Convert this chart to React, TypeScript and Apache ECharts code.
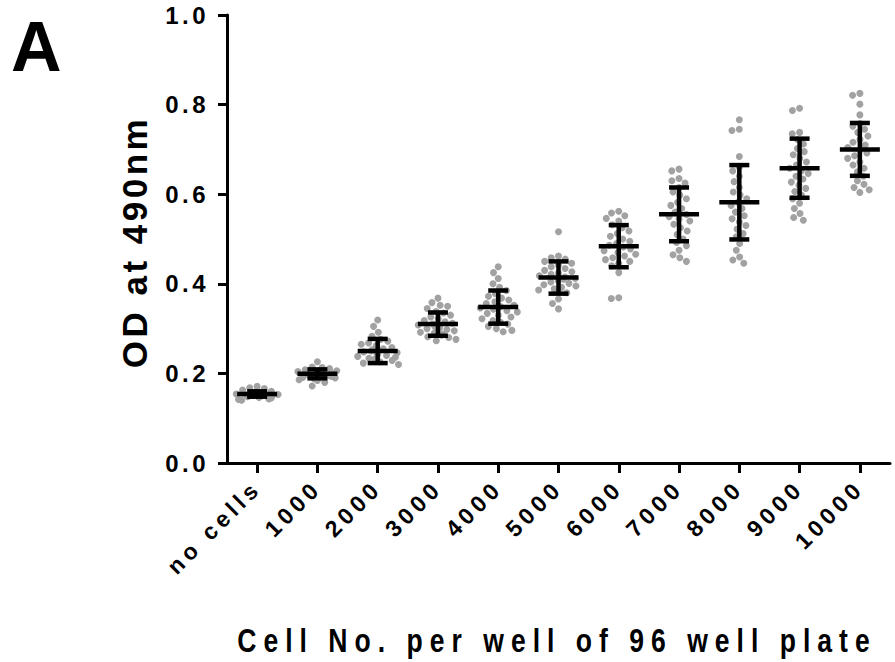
import React, { useEffect, useRef } from "react";
import * as echarts from "echarts";

// Cell titration: OD at 490 nm for each seeding density
const categories = ["no cells", "1000", "2000", "3000", "4000", "5000", "6000", "7000", "8000", "9000", "10000"];

const noCells = [0.171, 0.168, 0.166, 0.163, 0.160, 0.158, 0.157, 0.156, 0.155, 0.155, 0.154, 0.153, 0.152, 0.152, 0.151, 0.150, 0.149, 0.148, 0.147, 0.146, 0.145, 0.143, 0.142, 0.140];
const cells1000 = [0.226, 0.214, 0.213, 0.211, 0.208, 0.206, 0.204, 0.203, 0.202, 0.201, 0.200, 0.199, 0.198, 0.197, 0.196, 0.195, 0.194, 0.193, 0.191, 0.190, 0.188, 0.186, 0.184, 0.180, 0.172];
const cells2000 = [0.319, 0.305, 0.292, 0.283, 0.276, 0.272, 0.268, 0.265, 0.262, 0.258, 0.255, 0.253, 0.250, 0.248, 0.246, 0.244, 0.242, 0.240, 0.238, 0.236, 0.234, 0.232, 0.229, 0.226, 0.223, 0.220];
const cells3000 = [0.368, 0.358, 0.352, 0.350, 0.345, 0.338, 0.335, 0.330, 0.326, 0.322, 0.318, 0.315, 0.312, 0.310, 0.308, 0.306, 0.304, 0.302, 0.300, 0.298, 0.295, 0.292, 0.290, 0.288, 0.285, 0.282, 0.280, 0.276, 0.273];
const cells4000 = [0.438, 0.425, 0.412, 0.400, 0.392, 0.385, 0.378, 0.372, 0.368, 0.364, 0.360, 0.356, 0.352, 0.349, 0.346, 0.343, 0.340, 0.337, 0.334, 0.330, 0.326, 0.322, 0.318, 0.314, 0.310, 0.305, 0.300, 0.296, 0.293];
const cells5000 = [0.516, 0.462, 0.458, 0.455, 0.450, 0.446, 0.442, 0.438, 0.434, 0.430, 0.427, 0.424, 0.421, 0.418, 0.415, 0.412, 0.410, 0.407, 0.404, 0.401, 0.398, 0.395, 0.392, 0.389, 0.386, 0.380, 0.366, 0.356, 0.344];
const cells6000 = [0.562, 0.558, 0.552, 0.546, 0.540, 0.532, 0.525, 0.518, 0.512, 0.506, 0.500, 0.495, 0.490, 0.486, 0.482, 0.478, 0.474, 0.470, 0.466, 0.462, 0.458, 0.454, 0.450, 0.446, 0.440, 0.425, 0.369, 0.367];
const cells7000 = [0.656, 0.652, 0.635, 0.630, 0.625, 0.615, 0.605, 0.598, 0.590, 0.582, 0.575, 0.568, 0.560, 0.555, 0.550, 0.545, 0.540, 0.533, 0.525, 0.518, 0.510, 0.500, 0.492, 0.485, 0.475, 0.465, 0.458, 0.450];
const cells8000 = [0.766, 0.745, 0.742, 0.684, 0.660, 0.652, 0.640, 0.628, 0.615, 0.605, 0.598, 0.590, 0.582, 0.575, 0.568, 0.560, 0.552, 0.545, 0.538, 0.530, 0.522, 0.512, 0.505, 0.490, 0.475, 0.460, 0.453, 0.446];
const cells9000 = [0.792, 0.787, 0.738, 0.735, 0.722, 0.712, 0.702, 0.695, 0.688, 0.680, 0.672, 0.665, 0.658, 0.652, 0.646, 0.640, 0.634, 0.627, 0.620, 0.613, 0.606, 0.598, 0.590, 0.580, 0.568, 0.557, 0.548, 0.542];
const cells10000 = [0.825, 0.821, 0.801, 0.777, 0.758, 0.752, 0.745, 0.738, 0.730, 0.722, 0.716, 0.710, 0.704, 0.698, 0.692, 0.686, 0.680, 0.672, 0.665, 0.658, 0.650, 0.640, 0.630, 0.622, 0.615, 0.610, 0.604];

const replicates = [noCells, cells1000, cells2000, cells3000, cells4000, cells5000, cells6000, cells7000, cells8000, cells9000, cells10000];

// group mean and standard deviation
const means = [0.154, 0.199, 0.250, 0.310, 0.348, 0.414, 0.484, 0.555, 0.582, 0.658, 0.700];
const sds = [0.006, 0.010, 0.027, 0.026, 0.037, 0.036, 0.047, 0.060, 0.083, 0.066, 0.059];

const yTicks = [0, 0.2, 0.4, 0.6, 0.8, 1.0];

const FONT = "Arial, 'Liberation Sans', Helvetica, sans-serif";

export default function App() {
  const ref = useRef<HTMLDivElement>(null);

  useEffect(() => {
    if (!ref.current) return;
    const chart = echarts.init(ref.current, null, { renderer: "svg" });

    const dots: number[][] = [];
    replicates.forEach((vals, i) => vals.forEach((v) => dots.push([i, v])));
    const summary = means.map((m, i) => [i, m, sds[i]]);

    chart.setOption({
      animation: false,
      backgroundColor: "#ffffff",
      grid: { left: 227, right: 5, top: 15, bottom: 199, containLabel: false },
      xAxis: {
        type: "category",
        data: categories,
        boundaryGap: true,
        jitter: 42,
        jitterOverlap: false,
        jitterMargin: 0.5,
        axisLine: { show: true, lineStyle: { color: "#000", width: 3 } },
        axisTick: { show: true, alignWithLabel: true, length: 10, lineStyle: { color: "#000", width: 3 } },
        axisLabel: {
          rotate: 45,
          interval: 0,
          margin: 21,
          color: "#000",
          fontFamily: FONT,
          fontWeight: "bold",
          fontSize: 23,
        },
        splitLine: { show: false },
      },
      yAxis: {
        type: "value",
        min: yTicks[0],
        max: yTicks[yTicks.length - 1],
        interval: 0.2,
        axisLine: { show: true, lineStyle: { color: "#000", width: 3 } },
        axisTick: { show: true, length: 9, lineStyle: { color: "#000", width: 3 } },
        axisLabel: {
          margin: 18,
          color: "#000",
          fontFamily: FONT,
          fontWeight: "bold",
          fontSize: 24,
          formatter: (v: number) => v.toFixed(1),
        },
        splitLine: { show: false },
      },
      graphic: [
        {
          type: "text",
          left: 11,
          top: 12,
          style: { text: "A", fill: "#000", font: `bold 70px ${FONT}` },
        },
        {
          type: "text",
          x: 134,
          y: 242,
          rotation: Math.PI / 2,
          style: {
            text: "OD at 490nm",
            fill: "#000",
            font: `bold 35px ${FONT}`,
            textAlign: "center",
            textVerticalAlign: "middle",
          },
        },
        {
          type: "text",
          x: 557,
          y: 640,
          scaleX: 0.78,
          style: {
            text: "Cell No. per well of 96 well plate",
            fill: "#000",
            font: `bold 34px ${FONT}`,
            textAlign: "center",
            textVerticalAlign: "middle",
          },
        },
      ],
      series: [
        {
          type: "scatter",
          data: dots,
          symbol: "circle",
          symbolSize: 7,
          itemStyle: { color: "#a2a2a2", opacity: 1 },
          z: 2,
        },
        {
          type: "custom",
          data: summary,
          z: 3,
          renderItem: (params: any, api: any) => {
            const i = api.value(0);
            const m = api.value(1);
            const s = api.value(2);
            const c = api.coord([i, m]);
            const hi = api.coord([i, m + s]);
            const lo = api.coord([i, m - s]);
            const stroke = { stroke: "#000", lineWidth: 4.5 };
            return {
              type: "group",
              children: [
                { type: "line", shape: { x1: c[0], y1: hi[1], x2: c[0], y2: lo[1] }, style: stroke },
                { type: "line", shape: { x1: c[0] - 10, y1: hi[1], x2: c[0] + 10, y2: hi[1] }, style: stroke },
                { type: "line", shape: { x1: c[0] - 10, y1: lo[1], x2: c[0] + 10, y2: lo[1] }, style: stroke },
                { type: "line", shape: { x1: c[0] - 20, y1: c[1], x2: c[0] + 20, y2: c[1] }, style: stroke },
              ],
            };
          },
        },
      ],
    });

    return () => chart.dispose();
  }, []);

  return (
    <>
      <style>{`
        .od-chart text[style*="35px"] { letter-spacing: 3.5px; }
        .od-chart text[style*="34px"] { letter-spacing: 9px; }
        .od-chart text[style*="23px"] { letter-spacing: 4.5px; }
        .od-chart text[style*="24px"] { letter-spacing: 3.5px; }
      `}</style>
      <div
        ref={ref}
        className="od-chart"
        style={{ position: "absolute", left: 0, top: 0, width: 895, height: 662 }}
      />
    </>
  );
}
